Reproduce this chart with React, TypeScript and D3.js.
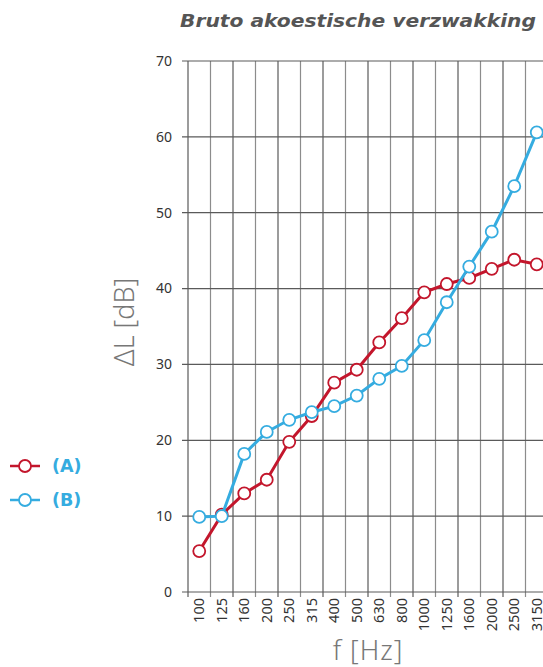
import React, { useEffect, useRef } from 'react';
import * as d3 from 'd3';

const freqs = ['100', '125', '160', '200', '250', '315', '400', '500', '630', '800', '1000', '1250', '1600', '2000', '2500', '3150'];
const seriesA = [5.4, 10.2, 13.0, 14.8, 19.8, 23.2, 27.6, 29.3, 32.9, 36.1, 39.5, 40.6, 41.4, 42.6, 43.8, 43.2];
const seriesB = [9.9, 10.0, 18.2, 21.1, 22.7, 23.7, 24.5, 25.9, 28.1, 29.8, 33.2, 38.2, 42.9, 47.5, 53.5, 60.6];
const yTicks = [0, 10, 20, 30, 40, 50, 60, 70];
const legendItems = ['(A)', '(B)'];

const RED = '#c3162c';
const BLUE = '#35ace0';
const GRID = '#5a5a5a';
const FONT = "'Noto Sans', 'DejaVu Sans', sans-serif";
const WIDE = "'DejaVu Sans', sans-serif";

const App = () => {
  const ref = useRef<SVGSVGElement>(null);

  useEffect(() => {
    const svg = d3.select(ref.current);
    svg.selectAll('*').remove();

    const width = 543;
    const left = 188;
    const top = 61;
    const bottom = 592;

    const x = d3.scaleBand<string>().domain(freqs).range([left, left + 22.5 * freqs.length]).padding(0);
    const y = d3.scaleLinear().domain([0, 70]).range([bottom, top]);
    const cx = (f: string) => (x(f) as number) + x.bandwidth() / 2;

    // Title
    svg.append('text')
      .attr('x', 180)
      .attr('y', 27)
      .attr('font-family', WIDE)
      .attr('font-size', 17)
      .attr('font-weight', 'bold')
      .attr('font-style', 'italic')
      .attr('fill', '#555')
      .attr('textLength', 356)
      .attr('lengthAdjust', 'spacingAndGlyphs')
      .text('Bruto akoestische verzwakking');

    // Vertical grid lines (band edges) with small ticks below axis
    const edges = freqs.map(f => x(f) as number).concat([left + 22.5 * freqs.length]);
    svg.append('g').selectAll('line')
      .data(edges)
      .enter().append('line')
      .attr('x1', d => d)
      .attr('x2', d => d)
      .attr('y1', top)
      .attr('y2', bottom + 5)
      .attr('stroke', (d, i) => (i % 2 === 1 ? '#8c8c8c' : GRID))
      .attr('stroke-width', 1.2);

    // Horizontal grid lines
    svg.append('g').selectAll('line')
      .data(yTicks)
      .enter().append('line')
      .attr('x1', left - 6)
      .attr('x2', width)
      .attr('y1', d => y(d))
      .attr('y2', d => y(d))
      .attr('stroke', GRID)
      .attr('stroke-width', 1.2);

    // Y tick labels
    svg.append('g').selectAll('text')
      .data(yTicks)
      .enter().append('text')
      .attr('x', 172)
      .attr('y', d => y(d))
      .attr('dy', '0.35em')
      .attr('text-anchor', 'end')
      .attr('font-family', FONT)
      .attr('font-size', 14)
      .attr('fill', '#333')
      .text(d => d);

    // X tick labels (rotated)
    svg.append('g').selectAll('text')
      .data(freqs)
      .enter().append('text')
      .attr('transform', d => `translate(${cx(d) + 5},${bottom + 6}) rotate(-90)`)
      .attr('text-anchor', 'end')
      .attr('font-family', FONT)
      .attr('font-size', 14.5)
      .attr('fill', '#333')
      .text(d => d);

    // Axis titles
    svg.append('text')
      .attr('transform', `translate(134,322) rotate(-90)`)
      .attr('text-anchor', 'middle')
      .attr('font-family', FONT)
      .attr('font-weight', 300)
      .attr('font-size', 27)
      .attr('fill', '#777')
      .text('ΔL [dB]');

    svg.append('text')
      .attr('x', 368)
      .attr('y', 660)
      .attr('text-anchor', 'middle')
      .attr('font-family', FONT)
      .attr('font-weight', 300)
      .attr('font-size', 27)
      .attr('letter-spacing', 1)
      .attr('fill', '#777')
      .text('f [Hz]');

    // Lines and markers
    const line = d3.line<number>()
      .x((d, i) => cx(freqs[i]))
      .y(d => y(d));

    [[seriesA, RED], [seriesB, BLUE]].forEach(([vals, color]) => {
      const values = vals as number[];
      svg.append('path')
        .datum(values)
        .attr('d', line)
        .attr('fill', 'none')
        .attr('stroke', color as string)
        .attr('stroke-width', 3);
      svg.append('g').selectAll('circle')
        .data(values)
        .enter().append('circle')
        .attr('cx', (d, i) => cx(freqs[i]))
        .attr('cy', d => y(d))
        .attr('r', 6)
        .attr('fill', '#fff')
        .attr('stroke', color as string)
        .attr('stroke-width', 1.8);
    });

    // Legend
    const legend = svg.append('g');
    legendItems.forEach((label, i) => {
      const ly = 466 + i * 34;
      const color = i === 0 ? RED : BLUE;
      legend.append('line')
        .attr('x1', 10).attr('x2', 40)
        .attr('y1', ly).attr('y2', ly)
        .attr('stroke', color).attr('stroke-width', 2.5);
      legend.append('circle')
        .attr('cx', 25).attr('cy', ly).attr('r', 6)
        .attr('fill', '#fff').attr('stroke', color).attr('stroke-width', 1.8);
      legend.append('text')
        .attr('x', 52).attr('y', ly)
        .attr('dy', '0.36em')
        .attr('font-family', WIDE)
        .attr('font-size', 17.5)
        .attr('font-weight', 'bold')
        .attr('fill', BLUE)
        .text(label);
    });
  }, []);

  return (
    <svg ref={ref} width={543} height={667} style={{ position: 'absolute', left: 0, top: 0 }} />
  );
};

export default App;
